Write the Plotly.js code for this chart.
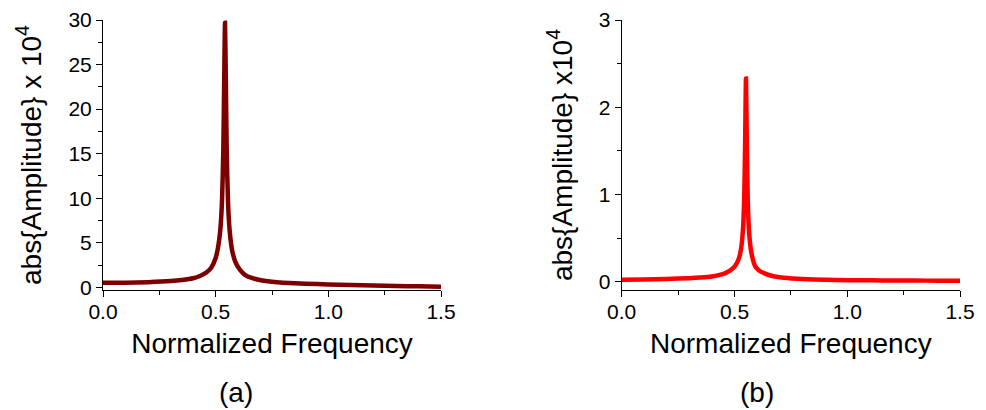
<!DOCTYPE html>
<html>
<head>
<meta charset="utf-8">
<script src="https://cdn.plot.ly/plotly-3.0.1.min.js"></script>
<style>
  html, body { margin: 0; padding: 0; background: #ffffff; }
  #chart { width: 986px; height: 410px; }
</style>
</head>
<body>
<div id="chart"></div>
<script>
// Panel (a): resonance spectrum, amplitude in units of 10^4
const freqA = [0, 0.1, 0.2, 0.3, 0.35, 0.4, 0.43, 0.46, 0.48, 0.5, 0.51, 0.52, 0.528, 0.534, 0.538,
  0.5415, 0.545, 0.549, 0.555, 0.563, 0.575, 0.59, 0.61, 0.63, 0.66, 0.7, 0.75, 0.8, 0.9, 1.0,
  1.1, 1.2, 1.3, 1.4, 1.5];
const ampA = [0.5, 0.52, 0.58, 0.7, 0.82, 1.02, 1.27, 1.7, 2.2, 3.3, 4.4, 6.3, 9.6, 15.5, 23.6,
  29.7, 23.6, 15.4, 9.4, 6.1, 3.9, 2.7, 1.9, 1.4, 1.05, 0.8, 0.62, 0.52, 0.41, 0.33,
  0.26, 0.2, 0.15, 0.11, 0.07];

// Panel (b): resonance spectrum, amplitude in units of 10^4
const freqB = [0, 0.1, 0.2, 0.3, 0.35, 0.4, 0.43, 0.46, 0.48, 0.5, 0.51, 0.52, 0.53, 0.538, 0.543,
  0.547, 0.551, 0.555, 0.559, 0.564, 0.572, 0.58, 0.591, 0.61, 0.636, 0.66, 0.7, 0.754, 0.8,
  0.9, 1.0, 1.1, 1.2, 1.3, 1.4, 1.5];
const ampB = [0.022, 0.025, 0.03, 0.04, 0.048, 0.06, 0.075, 0.098, 0.125, 0.17, 0.21, 0.27, 0.39, 0.61, 0.94,
  1.54, 2.33, 1.53, 0.93, 0.6, 0.38, 0.27, 0.18, 0.125, 0.092, 0.07, 0.05, 0.037, 0.03,
  0.022, 0.017, 0.015, 0.013, 0.012, 0.011, 0.01];

const xTickVals = [0, 0.5, 1.0, 1.5];
const xTickText = ['0.0', '0.5', '1.0', '1.5'];
const yTickValsA = [0, 5, 10, 15, 20, 25, 30];
const yTickValsB = [0, 1, 2, 3];

const xTitle = 'Normalized Frequency';
const yTitleA = 'abs{Amplitude} x 10<sup>4</sup>';
const yTitleB = 'abs{Amplitude} x10<sup>4</sup>';
const panelLabels = ['(a)', '(b)'];

const FONT = 'Liberation Sans, Arial, sans-serif';
const W = 986, H = 410;

function xAxis(domain, anchor) {
  return {
    domain: domain, anchor: anchor, range: [0, 1.5],
    showline: true, linecolor: '#000', linewidth: 1, mirror: false,
    showgrid: false, zeroline: false,
    ticks: 'outside', ticklen: 6, tickwidth: 1, tickcolor: '#000',
    ticklabelstandoff: -3,
    tickvals: xTickVals, ticktext: xTickText,
    minor: { dtick: 0.25, tick0: 0, ticks: 'outside', ticklen: 4, tickwidth: 1, tickcolor: '#000', showgrid: false },
    tickfont: { family: FONT, size: 21, color: '#000' },
    title: { text: xTitle, font: { family: FONT, size: 28, color: '#000' }, standoff: 11 }
  };
}

function yAxis(range, tickvals, minorStep, title, anchor) {
  return {
    domain: [(H - 290) / H, (H - 20) / H], anchor: anchor, range: range,
    showline: true, linecolor: '#000', linewidth: 1, mirror: false,
    showgrid: false, zeroline: false,
    ticks: 'outside', ticklen: 6, tickwidth: 1, tickcolor: '#000',
    tickvals: tickvals,
    minor: { dtick: minorStep, tick0: 0, ticks: 'outside', ticklen: 4, tickwidth: 1, tickcolor: '#000', showgrid: false },
    tickfont: { family: FONT, size: 21, color: '#000' },
    title: { text: title, font: { family: FONT, size: 28, color: '#000' }, standoff: 18 }
  };
}

const traces = [
  { x: freqA, y: ampA, type: 'scatter', mode: 'lines', xaxis: 'x', yaxis: 'y',
    line: { color: '#7d0000', width: 4.5, shape: 'spline', smoothing: 0.6 }, hoverinfo: 'skip' },
  { x: freqB, y: ampB, type: 'scatter', mode: 'lines', xaxis: 'x2', yaxis: 'y2',
    line: { color: '#ff0000', width: 4.5, shape: 'spline', smoothing: 0.6 }, hoverinfo: 'skip' }
];

const layout = {
  width: W, height: H,
  margin: { l: 0, r: 0, t: 0, b: 0 },
  paper_bgcolor: '#ffffff', plot_bgcolor: '#ffffff',
  showlegend: false,
  xaxis: xAxis([103 / W, 441 / W], 'y'),
  yaxis: yAxis([-0.3, 30], yTickValsA, 2.5, yTitleA, 'x'),
  xaxis2: xAxis([621.7 / W, 960 / W], 'y2'),
  yaxis2: yAxis([-0.096, 3], yTickValsB, 0.5, yTitleB, 'x2'),
  annotations: [
    { text: panelLabels[0], xref: 'paper', yref: 'paper', x: 236 / W, y: (H - 392) / H,
      xanchor: 'center', yanchor: 'middle', showarrow: false,
      font: { family: FONT, size: 28, color: '#000' } },
    { text: panelLabels[1], xref: 'paper', yref: 'paper', x: 757 / W, y: (H - 392) / H,
      xanchor: 'center', yanchor: 'middle', showarrow: false,
      font: { family: FONT, size: 28, color: '#000' } }
  ]
};

Plotly.newPlot('chart', traces, layout, { displayModeBar: false, staticPlot: true });
</script>
</body>
</html>
